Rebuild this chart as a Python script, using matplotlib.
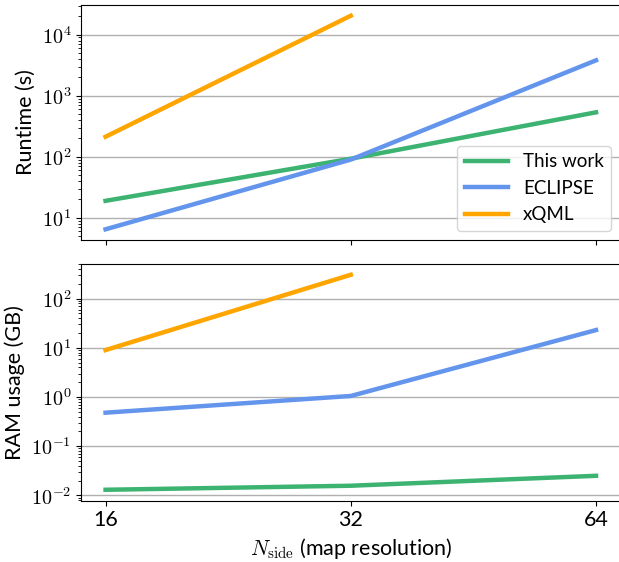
import matplotlib
matplotlib.use("Agg")
import numpy as np
import matplotlib.pyplot as plt
from matplotlib.ticker import FixedLocator, FixedFormatter, NullLocator, FuncFormatter

plt.rcParams["font.family"] = ["Lato", "DejaVu Sans"]
plt.rcParams["mathtext.fontset"] = "cm"
plt.rcParams["font.size"] = 15.5

# ===============================
# Benchmark numbers
# ===============================
nside = [16, 32, 64]
nside_xqml = [16, 32]

runtime_this = [19, 93, 535]
runtime_eclipse = [6.5, 90, 3800]
runtime_xqml = [213, 20400]

ram_this = [0.013, 0.0157, 0.025]
ram_eclipse = [0.48, 1.05, 23]
ram_xqml = [9.0, 306]

colors = {"This work": "mediumseagreen", "ECLIPSE": "cornflowerblue", "xQML": "orange"}


def pow10(v, pos):
    return r"$10^{%d}$" % int(round(np.log10(v)))


fig = plt.figure(figsize=(6.19, 5.62), dpi=100)
ax1 = fig.add_axes([0.1309, 0.573, 0.8716, 0.418])
ax2 = fig.add_axes([0.1309, 0.1094, 0.8716, 0.4208], sharex=ax1)

lw = 3.2
ax1.plot(nside, runtime_this, color=colors["This work"], lw=lw, label="This work")
ax1.plot(nside, runtime_eclipse, color=colors["ECLIPSE"], lw=lw, label="ECLIPSE")
ax1.plot(nside_xqml, runtime_xqml, color=colors["xQML"], lw=lw, label="xQML")

ax2.plot(nside, ram_this, color=colors["This work"], lw=lw)
ax2.plot(nside, ram_eclipse, color=colors["ECLIPSE"], lw=lw)
ax2.plot(nside_xqml, ram_xqml, color=colors["xQML"], lw=lw)

for ax in (ax1, ax2):
    ax.set_xscale("log", base=2)
    ax.set_yscale("log")
    ax.yaxis.set_major_formatter(FuncFormatter(pow10))
    ax.grid(axis="y", which="major", color="#b0b0b0", lw=1.0)
    ax.set_axisbelow(True)
    ax.xaxis.set_major_locator(FixedLocator(nside))
    ax.xaxis.set_minor_locator(NullLocator())
    ax.tick_params(axis="y", labelsize=14.5)

ax2.xaxis.set_major_formatter(FixedFormatter([str(n) for n in nside]))
ax1.tick_params(axis="x", labelbottom=False)

ax1.set_ylabel("Runtime (s)")
ax2.set_ylabel("RAM usage (GB)")
ax2.set_xlabel(r"$N_{\rm side}$ (map resolution)")
ax1.legend(loc="lower right", fontsize=13.5, handlelength=2.3)

fig.savefig("out.png", dpi=100)
